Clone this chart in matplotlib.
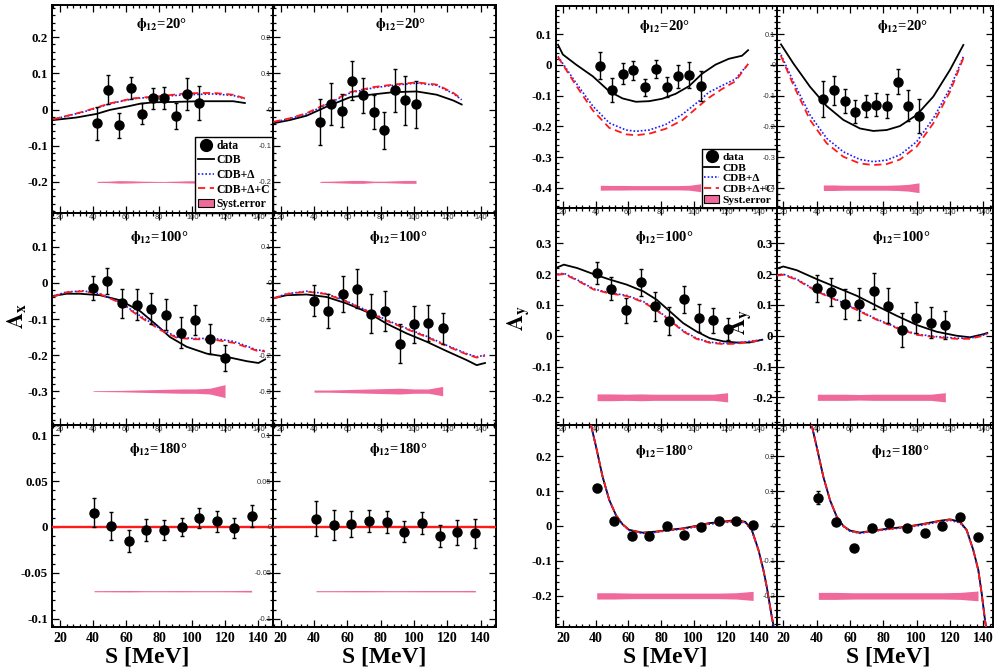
import numpy as np
import matplotlib
matplotlib.use('Agg')
import matplotlib.pyplot as plt
from matplotlib.ticker import MultipleLocator
from matplotlib.font_manager import FontProperties
from matplotlib.lines import Line2D
from matplotlib.patches import Patch

plt.rcParams['mathtext.fontset'] = 'stix'
plt.rcParams['font.family'] = ['Liberation Serif', 'DejaVu Serif']
plt.rcParams['font.weight'] = 'bold'

# ---------------- DATA ----------------
xticks_s = [20, 40, 60, 80, 100, 120, 140]
phi_labels = ['20', '100', '180']

# Ax, phi12=20, left
s_ax20a = [42.5, 49.2, 55.8, 62.9, 69.5, 76.4, 83.0, 90.0, 96.9, 103.8]
ax20a = [-0.038, 0.055, -0.044, 0.060, -0.012, 0.031, 0.031, -0.019, 0.043, 0.018]
ax20a_err = [0.046, 0.041, 0.034, 0.031, 0.029, 0.029, 0.030, 0.036, 0.043, 0.047]
ax20a_syst = [0.0015, 0.002, 0.0035, 0.003, 0.002, 0.0015, 0.0013, 0.002, 0.003, 0.0035]
ax20a_cdb_s = [16, 30, 42.2, 50.2, 60.3, 68.3, 76.4, 88.5, 104.6, 124.7, 131.8]
ax20a_cdb = [-0.029, -0.022, -0.012, -0.001, 0.008, 0.016, 0.020, 0.021, 0.023, 0.023, 0.018]
ax20a_d_s = [16, 34, 50.2, 64.3, 80.4, 96.6, 112.6, 124.7, 131.8]
ax20a_d = [-0.027, -0.007, 0.016, 0.030, 0.036, 0.041, 0.043, 0.039, 0.030]
ax20a_dc = [-0.027, -0.006, 0.017, 0.031, 0.037, 0.045, 0.046, 0.041, 0.031]

# Ax, phi12=20, right
s_ax20b = [43.6, 50.2, 56.6, 63.0, 69.4, 75.8, 82.0, 88.4, 94.8, 101.2]
ax20b = [-0.035, 0.016, -0.003, 0.079, 0.039, -0.007, -0.057, 0.053, 0.025, 0.014]
ax20b_err = [0.064, 0.058, 0.045, 0.054, 0.049, 0.046, 0.051, 0.060, 0.068, 0.064]
ax20b_syst = [0.0015, 0.002, 0.003, 0.004, 0.004, 0.002, 0.002, 0.003, 0.004, 0.004]
ax20b_cdb_s = [15.6, 25.6, 35.6, 47.6, 61.6, 75.6, 87.6, 101.6, 113.6, 123.6, 128.6]
ax20b_cdb = [-0.038, -0.029, -0.017, 0.008, 0.034, 0.042, 0.048, 0.050, 0.041, 0.025, 0.014]
ax20b_d = [-0.035, -0.025, -0.012, 0.014, 0.046, 0.060, 0.067, 0.073, 0.067, 0.044, 0.027]
ax20b_dc = [-0.034, -0.024, -0.010, 0.016, 0.048, 0.062, 0.069, 0.075, 0.069, 0.046, 0.029]

# Ay, phi12=20, left
s_ay20c = [42.9, 49.8, 56.5, 63.2, 70.2, 76.9, 83.8, 90.7, 97.4, 104.3]
ay20c = [-0.002, -0.082, -0.028, -0.017, -0.073, -0.012, -0.072, -0.037, -0.033, -0.069]
ay20c_err = [0.045, 0.039, 0.035, 0.031, 0.028, 0.029, 0.033, 0.037, 0.043, 0.049]
ay20c_syst = [0.008, 0.0075, 0.0075, 0.007, 0.007, 0.007, 0.007, 0.007, 0.008, 0.013]
ay20c_cdb_s = [17, 20, 28.1, 38.3, 48.4, 56.5, 64.7, 72.8, 80.9, 89, 97.2, 105.3, 113.4, 121.5, 129.6, 133.3]
ay20c_cdb = [0.066, 0.034, 0.001, -0.037, -0.086, -0.109, -0.120, -0.118, -0.110, -0.094, -0.069, -0.028, 0.001, 0.020, 0.030, 0.048]
ay20c_d_s = [17, 28.1, 38.3, 48.4, 58.6, 64.7, 72.8, 82.9, 93.1, 103.2, 109.3, 117.5, 125.6, 133.3]
ay20c_d = [0.028, -0.059, -0.134, -0.189, -0.212, -0.216, -0.212, -0.194, -0.161, -0.118, -0.089, -0.067, -0.046, 0.003]
ay20c_dc = [0.026, -0.067, -0.148, -0.205, -0.226, -0.229, -0.224, -0.208, -0.180, -0.134, -0.107, -0.078, -0.053, 0.003]

# Ay, phi12=20, right
s_ay20d = [44.0, 50.4, 56.8, 63.2, 69.4, 75.8, 82.0, 88.6, 95.0, 101.4]
ay20d = [-0.111, -0.082, -0.117, -0.152, -0.133, -0.129, -0.134, -0.054, -0.133, -0.166]
ay20d_err = [0.058, 0.047, 0.040, 0.038, 0.035, 0.038, 0.039, 0.041, 0.050, 0.056]
ay20d_syst = [0.009, 0.009, 0.008, 0.008, 0.008, 0.008, 0.008, 0.009, 0.011, 0.016]
ay20d_cdb_s = [18.6, 26, 36, 46, 56, 66, 74, 82, 90, 100, 110, 120, 128]
ay20d_cdb = [0.067, 0.005, -0.071, -0.134, -0.179, -0.207, -0.215, -0.212, -0.199, -0.163, -0.103, -0.016, 0.065]
ay20d_d = [0.033, -0.054, -0.163, -0.239, -0.283, -0.308, -0.315, -0.310, -0.293, -0.250, -0.174, -0.076, 0.027]
ay20d_dc = [0.029, -0.065, -0.179, -0.255, -0.299, -0.321, -0.326, -0.323, -0.308, -0.266, -0.190, -0.087, 0.022]

# Ax, phi12=100, left
s_ax100e = [40.0, 48.4, 57.5, 66.4, 75.2, 84.1, 93.0, 101.9, 110.7, 119.8]
ax100e = [-0.014, 0.005, -0.057, -0.060, -0.071, -0.088, -0.138, -0.102, -0.156, -0.208]
ax100e_err = [0.032, 0.037, 0.040, 0.042, 0.044, 0.043, 0.043, 0.041, 0.041, 0.036]
ax100e_syst = [0.001, 0.0015, 0.002, 0.003, 0.004, 0.005, 0.006, 0.006, 0.008, 0.018]
ax100e_cdb_s = [16, 24, 32.1, 44.2, 56.3, 68.4, 78.5, 86.5, 96.6, 108.7, 120.8, 132.9, 140, 144]
ax100e_cdb = [-0.036, -0.030, -0.030, -0.034, -0.048, -0.078, -0.117, -0.150, -0.177, -0.196, -0.205, -0.217, -0.222, -0.212]
ax100e_d_s = [16, 24, 34.1, 44.2, 56.3, 68.4, 80.5, 90.6, 100.6, 112.7, 124.8, 132.9, 139, 144]
ax100e_d = [-0.036, -0.025, -0.022, -0.030, -0.053, -0.091, -0.126, -0.150, -0.154, -0.154, -0.162, -0.175, -0.186, -0.188]
ax100e_dc = [-0.038, -0.026, -0.023, -0.031, -0.055, -0.094, -0.130, -0.152, -0.156, -0.157, -0.166, -0.178, -0.188, -0.190]

# Ax, phi12=100, right
s_ax100f = [40.0, 48.6, 57.2, 65.6, 74.4, 82.8, 91.4, 100.0, 108.6, 117.2]
ax100f = [-0.049, -0.077, -0.031, -0.016, -0.085, -0.078, -0.168, -0.115, -0.110, -0.125]
ax100f_err = [0.042, 0.047, 0.050, 0.054, 0.055, 0.055, 0.054, 0.051, 0.050, 0.043]
ax100f_syst = [0.003, 0.003, 0.004, 0.005, 0.006, 0.007, 0.008, 0.006, 0.006, 0.013]
ax100f_cdb_s = [16, 23.6, 35.6, 47.6, 59.6, 71.6, 83.6, 95.6, 107.6, 119.6, 131.6, 137.6, 142.6]
ax100f_cdb = [-0.042, -0.034, -0.032, -0.039, -0.057, -0.080, -0.113, -0.140, -0.163, -0.189, -0.214, -0.228, -0.222]
ax100f_d = [-0.042, -0.030, -0.023, -0.030, -0.051, -0.076, -0.103, -0.126, -0.148, -0.173, -0.196, -0.205, -0.200]
ax100f_dc = [-0.043, -0.031, -0.024, -0.031, -0.052, -0.078, -0.105, -0.128, -0.150, -0.175, -0.198, -0.207, -0.202]

# Ay, phi12=100, left
s_ay100g = [40.9, 49.4, 58.5, 67.7, 76.2, 85.1, 93.8, 103.0, 111.9, 120.8]
ay100g = [0.203, 0.153, 0.082, 0.173, 0.095, 0.047, 0.119, 0.057, 0.050, 0.022]
ay100g_err = [0.036, 0.038, 0.041, 0.043, 0.046, 0.045, 0.044, 0.046, 0.041, 0.037]
ay100g_syst = [0.011, 0.011, 0.010, 0.011, 0.010, 0.010, 0.010, 0.010, 0.010, 0.015]
ay100g_cdb_s = [16.6, 20.6, 28.7, 38.9, 49, 59.1, 69.3, 77.4, 85.5, 93.6, 101.7, 109.9, 118, 126.1, 134.2, 142]
ay100g_cdb = [0.222, 0.231, 0.220, 0.200, 0.182, 0.166, 0.144, 0.117, 0.079, 0.041, 0.014, -0.008, -0.018, -0.022, -0.022, -0.013]
ay100g_d = [0.200, 0.203, 0.182, 0.152, 0.139, 0.131, 0.111, 0.084, 0.052, 0.016, -0.008, -0.021, -0.025, -0.024, -0.018, -0.013]
ay100g_dc = [0.198, 0.201, 0.180, 0.150, 0.137, 0.129, 0.109, 0.082, 0.050, 0.014, -0.010, -0.023, -0.027, -0.026, -0.020, -0.015]

# Ay, phi12=100, right
s_ay100h = [40.4, 48.6, 57.2, 65.6, 74.2, 82.6, 91.4, 99.8, 108.4, 117.2]
ay100h = [0.154, 0.143, 0.103, 0.103, 0.146, 0.097, 0.019, 0.059, 0.043, 0.035]
ay100h_err = [0.043, 0.046, 0.050, 0.053, 0.058, 0.057, 0.055, 0.051, 0.051, 0.045]
ay100h_syst = [0.010, 0.010, 0.010, 0.009, 0.010, 0.010, 0.010, 0.010, 0.010, 0.015]
ay100h_cdb_s = [16, 20, 28, 40, 52, 64, 76, 88, 100, 112, 124, 132, 140, 142.4]
ay100h_cdb = [0.218, 0.225, 0.213, 0.184, 0.157, 0.130, 0.097, 0.065, 0.035, 0.013, 0.000, -0.005, 0.005, 0.009]
ay100h_d = [0.197, 0.200, 0.184, 0.146, 0.117, 0.086, 0.054, 0.027, 0.005, -0.003, -0.008, -0.008, 0.002, 0.009]
ay100h_dc = [0.195, 0.198, 0.182, 0.144, 0.115, 0.084, 0.052, 0.025, 0.003, -0.005, -0.010, -0.010, 0.000, 0.007]

# Ax, phi12=180, left
s_ax180i = [40.6, 50.8, 61.9, 72.2, 82.9, 93.6, 104.1, 114.8, 125.4, 135.9]
ax180i = [0.0156, 0.001, -0.015, -0.003, -0.003, 0.000, 0.010, 0.006, -0.001, 0.012]
ax180i_err = [0.016, 0.015, 0.012, 0.012, 0.011, 0.010, 0.011, 0.011, 0.011, 0.012]
ax180i_syst = [0.0006, 0.0007, 0.0008, 0.0006, 0.0006, 0.0007, 0.0006, 0.0006, 0.0007, 0.0009]

# Ax, phi12=180, right
s_ax180j = [41.2, 51.8, 62.4, 73.0, 83.6, 94.2, 104.8, 115.4, 126.0, 136.8]
ax180j = [0.009, 0.002, 0.003, 0.006, 0.005, -0.005, 0.004, -0.010, -0.006, -0.007]
ax180j_err = [0.019, 0.016, 0.014, 0.012, 0.012, 0.011, 0.012, 0.012, 0.014, 0.016]
ax180j_syst = [0.0006, 0.0006, 0.0007, 0.0007, 0.0006, 0.0006, 0.0007, 0.0007, 0.0007, 0.0008]

# theory for Ax at phi12=180 (identically zero)
ax180_th_s = [14, 152]
ax180_cdb = [0.0, 0.0]
ax180_d = [0.0, 0.0]
ax180_dc = [0.0, 0.0]

# Ay, phi12=180, left
s_ay180k = [40.7, 51.4, 62.2, 72.7, 83.5, 94.0, 104.6, 115.3, 125.9, 136.4]
ay180k = [0.108, 0.015, -0.030, -0.029, 0.000, -0.026, -0.002, 0.015, 0.014, 0.003]
ay180k_err = [0.010, 0.006, 0.005, 0.005, 0.005, 0.005, 0.005, 0.005, 0.005, 0.006]
ay180k_syst = [0.009, 0.009, 0.008, 0.008, 0.008, 0.008, 0.008, 0.008, 0.009, 0.013]
ay180k_cdb_s = [37.2, 40.3, 44.3, 48.4, 52.5, 56.5, 60.6, 68.7, 76.8, 84.9, 93, 101.1, 109.2, 117.4, 125.5, 131.6, 135.6, 139.7, 142.7, 144.7, 147.8, 148.8]
ay180k_cdb = [0.289, 0.227, 0.141, 0.074, 0.031, 0.005, -0.011, -0.019, -0.016, -0.011, -0.007, 0.000, 0.008, 0.012, 0.017, 0.012, -0.011, -0.069, -0.126, -0.173, -0.259, -0.283]
ay180k_d = [0.289, 0.227, 0.141, 0.074, 0.031, 0.004, -0.013, -0.021, -0.018, -0.013, -0.009, -0.003, 0.005, 0.009, 0.013, 0.009, -0.013, -0.071, -0.128, -0.175, -0.261, -0.285]
ay180k_dc = [0.289, 0.227, 0.141, 0.074, 0.031, 0.005, -0.012, -0.020, -0.017, -0.012, -0.008, -0.001, 0.007, 0.011, 0.015, 0.011, -0.012, -0.070, -0.127, -0.174, -0.260, -0.284]

# Ay, phi12=180, right
s_ay180l = [41.0, 51.6, 62.4, 73.0, 83.6, 94.4, 104.8, 115.4, 126.0, 136.8]
ay180l = [0.081, 0.012, -0.064, -0.007, 0.010, -0.007, -0.021, 0.000, 0.027, -0.032]
ay180l_err = [0.018, 0.006, 0.005, 0.005, 0.005, 0.005, 0.005, 0.005, 0.005, 0.006]
ay180l_syst = [0.010, 0.010, 0.009, 0.009, 0.009, 0.009, 0.009, 0.009, 0.010, 0.014]
ay180l_cdb_s = [37, 40, 44, 48, 52, 56, 60, 66, 74, 84, 94, 104, 114, 120, 126, 130, 134, 137, 139, 141, 141.6]
ay180l_cdb = [0.289, 0.227, 0.141, 0.074, 0.027, 0.000, -0.013, -0.019, -0.013, -0.007, -0.002, 0.006, 0.015, 0.019, 0.012, -0.011, -0.069, -0.126, -0.192, -0.269, -0.288]
ay180l_d = [0.289, 0.227, 0.141, 0.074, 0.027, -0.001, -0.015, -0.021, -0.015, -0.009, -0.004, 0.003, 0.012, 0.016, 0.009, -0.013, -0.071, -0.128, -0.194, -0.271, -0.290]
ay180l_dc = [0.289, 0.227, 0.141, 0.074, 0.027, 0.000, -0.014, -0.020, -0.014, -0.008, -0.003, 0.005, 0.014, 0.018, 0.011, -0.012, -0.070, -0.127, -0.193, -0.270, -0.289]

# ---------------- FIGURE ----------------
W, H = 996, 670
fig = plt.figure(figsize=(W / 100, H / 100), dpi=100)
PINK = '#ef6a9a'
BLUE = '#1a1aff'
RED = '#ff1a1a'

fp_bigy = FontProperties(family='Liberation Serif', weight='bold', size=9.3)
fp_bigx = FontProperties(family='Liberation Serif', weight='bold', size=10)
fp_small = FontProperties(family='Liberation Sans', weight='normal', size=5.4)


def fmt(v):
    if abs(v) < 1e-9:
        return '0'
    return ('%g' % round(v, 3))


def make_axes(box, xlim, ylim, yticks, yminor, big_y, bottom_row):
    x0, y0, x1, y1 = box
    ax = fig.add_axes([x0 / W, 1 - y1 / H, (x1 - x0) / W, (y1 - y0) / H])
    ax.set_facecolor('none')
    ax.set_xlim(*xlim)
    ax.set_ylim(*ylim)
    ax.set_xticks(xticks_s)
    ax.xaxis.set_minor_locator(MultipleLocator(4))
    ax.set_yticks(yticks)
    ax.yaxis.set_minor_locator(MultipleLocator(yminor))
    ax.tick_params(which='both', direction='in', top=True, right=True, width=0.9, color='k')
    ax.tick_params(which='major', length=5)
    ax.tick_params(which='minor', length=2.5)
    for sp in ax.spines.values():
        sp.set_linewidth(1.4)
    if bottom_row:
        ax.set_xticklabels([fmt(v) for v in xticks_s], fontproperties=fp_bigx)
        ax.tick_params(axis='x', pad=3.5)
    else:
        ax.set_xticklabels([fmt(v) for v in xticks_s], fontproperties=fp_small, color='#333333')
        ax.tick_params(axis='x', pad=1.0)
    if big_y:
        ax.set_yticklabels([fmt(v) for v in yticks], fontproperties=fp_bigy)
        ax.tick_params(axis='y', pad=3)
    else:
        ax.set_yticklabels([fmt(v) for v in yticks], fontproperties=fp_small, color='#333333')
        ax.tick_params(axis='y', pad=1.0)
    return ax


def draw(ax, s, val, err, syst, base, th_cdb, th_d, zero_line=False):
    s = np.asarray(s)
    syst = np.asarray(syst)
    ax.fill_between(s, base - syst, base + syst, color=PINK, lw=0, zorder=1)
    cs, cy = th_cdb
    ds, dy, dcy = th_d
    ax.plot(cs, cy, color='k', lw=1.3, zorder=2)
    ax.plot(ds, dy, color=BLUE, lw=1.2, ls=(0, (1, 1.2)), zorder=3)
    if zero_line:
        ax.plot(ds, dcy, color=RED, lw=1.7, ls='-', zorder=4)
    else:
        ax.plot(ds, dcy, color=RED, lw=1.3, ls=(0, (4, 2.5)), zorder=4)
    ax.errorbar(s, val, yerr=err, fmt='o', color='k', ms=6.5, elinewidth=1.0,
                capsize=1.6, capthick=1.0, zorder=6)


# layout boxes (pixels): left group and right group
LC = [(52, 273), (273, 496)]
RC = [(556, 777), (777, 993)]
LR = [(5, 213), (213, 425), (425, 627)]
RR = [(6, 208), (208, 425), (425, 627)]
LX = [(15.2, 148.8), (15.4, 149.2)]
RX = [(15.8, 151.0), (16.2, 145.8)]

panels = [
    # left group (Ax)
    dict(box=(LC[0][0], LR[0][0], LC[0][1], LR[0][1]), xl=LX[0], yl=(-0.286, 0.289),
         yt=[-0.2, -0.1, 0, 0.1, 0.2], ym=0.02, by=True, br=False, z=False,
         d=(s_ax20a, ax20a, ax20a_err, ax20a_syst, -0.2,
            (ax20a_cdb_s, ax20a_cdb), (ax20a_d_s, ax20a_d, ax20a_dc)), t=(161, 28, phi_labels[0])),
    dict(box=(LC[1][0], LR[0][0], LC[1][1], LR[0][1]), xl=LX[1], yl=(-0.286, 0.289),
         yt=[-0.2, -0.1, 0, 0.1, 0.2], ym=0.02, by=False, br=False, z=False,
         d=(s_ax20b, ax20b, ax20b_err, ax20b_syst, -0.2,
            (ax20b_cdb_s, ax20b_cdb), (ax20b_cdb_s, ax20b_d, ax20b_dc)), t=(400, 28, phi_labels[0])),
    dict(box=(LC[0][0], LR[1][0], LC[0][1], LR[1][1]), xl=LX[0], yl=(-0.394, 0.194),
         yt=[-0.3, -0.2, -0.1, 0, 0.1], ym=0.02, by=True, br=False, z=False,
         d=(s_ax100e, ax100e, ax100e_err, ax100e_syst, -0.3,
            (ax100e_cdb_s, ax100e_cdb), (ax100e_d_s, ax100e_d, ax100e_dc)), t=(159, 241.5, phi_labels[1])),
    dict(box=(LC[1][0], LR[1][0], LC[1][1], LR[1][1]), xl=LX[1], yl=(-0.394, 0.194),
         yt=[-0.3, -0.2, -0.1, 0, 0.1], ym=0.02, by=False, br=False, z=False,
         d=(s_ax100f, ax100f, ax100f_err, ax100f_syst, -0.3,
            (ax100f_cdb_s, ax100f_cdb), (ax100f_cdb_s, ax100f_d, ax100f_dc)), t=(398, 241.5, phi_labels[1])),
    dict(box=(LC[0][0], LR[2][0], LC[0][1], LR[2][1]), xl=LX[0], yl=(-0.109, 0.111),
         yt=[-0.1, -0.05, 0, 0.05, 0.1], ym=0.01, by=True, br=True, z=True,
         d=(s_ax180i, ax180i, ax180i_err, ax180i_syst, -0.07,
            (ax180_th_s, ax180_cdb), (ax180_th_s, ax180_d, ax180_dc)), t=(158, 453, phi_labels[2])),
    dict(box=(LC[1][0], LR[2][0], LC[1][1], LR[2][1]), xl=LX[1], yl=(-0.109, 0.111),
         yt=[-0.1, -0.05, 0, 0.05, 0.1], ym=0.01, by=False, br=True, z=True,
         d=(s_ax180j, ax180j, ax180j_err, ax180j_syst, -0.07,
            (ax180_th_s, ax180_cdb), (ax180_th_s, ax180_d, ax180_dc)), t=(398, 453, phi_labels[2])),
    # right group (Ay)
    dict(box=(RC[0][0], RR[0][0], RC[0][1], RR[0][1]), xl=RX[0], yl=(-0.466, 0.192),
         yt=[-0.4, -0.3, -0.2, -0.1, 0, 0.1], ym=0.02, by=True, br=False, z=False,
         d=(s_ay20c, ay20c, ay20c_err, ay20c_syst, -0.4,
            (ay20c_cdb_s, ay20c_cdb), (ay20c_d_s, ay20c_d, ay20c_dc)), t=(664, 30, phi_labels[0])),
    dict(box=(RC[1][0], RR[0][0], RC[1][1], RR[0][1]), xl=RX[1], yl=(-0.466, 0.192),
         yt=[-0.4, -0.3, -0.2, -0.1, 0, 0.1], ym=0.02, by=False, br=False, z=False,
         d=(s_ay20d, ay20d, ay20d_err, ay20d_syst, -0.4,
            (ay20d_cdb_s, ay20d_cdb), (ay20d_cdb_s, ay20d_d, ay20d_dc)), t=(902, 30, phi_labels[0])),
    dict(box=(RC[0][0], RR[1][0], RC[0][1], RR[1][1]), xl=RX[0], yl=(-0.29, 0.415),
         yt=[-0.2, -0.1, 0, 0.1, 0.2, 0.3], ym=0.02, by=True, br=False, z=False,
         d=(s_ay100g, ay100g, ay100g_err, ay100g_syst, -0.2,
            (ay100g_cdb_s, ay100g_cdb), (ay100g_cdb_s, ay100g_d, ay100g_dc)), t=(664, 241.5, phi_labels[1])),
    dict(box=(RC[1][0], RR[1][0], RC[1][1], RR[1][1]), xl=RX[1], yl=(-0.29, 0.415),
         yt=[-0.2, -0.1, 0, 0.1, 0.2, 0.3], ym=0.02, by=True, br=False, z=False,
         d=(s_ay100h, ay100h, ay100h_err, ay100h_syst, -0.2,
            (ay100h_cdb_s, ay100h_cdb), (ay100h_cdb_s, ay100h_d, ay100h_dc)), t=(901, 241.5, phi_labels[1])),
    dict(box=(RC[0][0], RR[2][0], RC[0][1], RR[2][1]), xl=RX[0], yl=(-0.289, 0.289),
         yt=[-0.2, -0.1, 0, 0.1, 0.2], ym=0.02, by=True, br=True, z=False,
         d=(s_ay180k, ay180k, ay180k_err, ay180k_syst, -0.2,
            (ay180k_cdb_s, ay180k_cdb), (ay180k_cdb_s, ay180k_d, ay180k_dc)), t=(664, 455, phi_labels[2])),
    dict(box=(RC[1][0], RR[2][0], RC[1][1], RR[2][1]), xl=RX[1], yl=(-0.289, 0.289),
         yt=[-0.2, -0.1, 0, 0.1, 0.2], ym=0.02, by=False, br=True, z=False,
         d=(s_ay180l, ay180l, ay180l_err, ay180l_syst, -0.2,
            (ay180l_cdb_s, ay180l_cdb), (ay180l_cdb_s, ay180l_d, ay180l_dc)), t=(900, 455, phi_labels[2])),
]

axes = []
for p in panels:
    ax = make_axes(p['box'], p['xl'], p['yl'], p['yt'], p['ym'], p['by'], p['br'])
    draw(ax, *p['d'], zero_line=p['z'])
    tx, ty, lab = p['t']
    fig.text(tx / W, 1 - ty / H, r'$\mathbf{\phi}_{\mathbf{12}}$=' + lab + '°', ha='center', va='baseline',
             fontsize=10.5, fontweight='bold', family='Liberation Serif')
    axes.append(ax)

# legends
handles = [
    Line2D([], [], marker='o', color='k', ls='none', ms=8.5),
    Line2D([], [], color='k', lw=1.3),
    Line2D([], [], color=BLUE, lw=1.2, ls=(0, (1, 1.2))),
    Line2D([], [], color=RED, lw=1.3, ls=(0, (4, 2.5))),
    Patch(facecolor=PINK, edgecolor='k', lw=0.8),
]
labels = ['data', 'CDB', 'CDB+Δ', 'CDB+Δ+C', 'Syst.error']
for idx, fs, ls in ((0, 8.4, 0.22), (6, 8.2, 0.08)):
    leg = axes[idx].legend(handles, labels, loc='lower right', bbox_to_anchor=(1, 0),
                           borderaxespad=0, frameon=True, fancybox=False, edgecolor='k',
                           framealpha=1, prop=FontProperties(family='Liberation Serif', weight='bold', size=fs),
                           handlelength=1.3, handletextpad=0.25, labelspacing=ls, borderpad=0.25)
    leg.get_frame().set_linewidth(1.0)
    leg.set_zorder(10)

# axis titles
for xc in (147, 384, 665, 888):
    fig.text(xc / W, 1 - 657 / H, 'S [MeV]', ha='center', va='center', fontsize=17,
             fontweight='bold', family='Liberation Serif')
fig.text(16 / W, 1 - 316 / H, r'$\mathbf{A}_{\mathbf{x}}$', rotation=90, ha='center', va='center', fontsize=16)
fig.text(518 / W, 1 - 318 / H, r'$\mathbf{A}_{\mathbf{y}}$', rotation=90, ha='center', va='center', fontsize=16)
fig.text(740 / W, 1 - 322 / H, r'$\mathbf{A}_{\mathbf{y}}$', rotation=90, ha='center', va='center', fontsize=16)

fig.savefig('out.png', dpi=100, facecolor='white')
